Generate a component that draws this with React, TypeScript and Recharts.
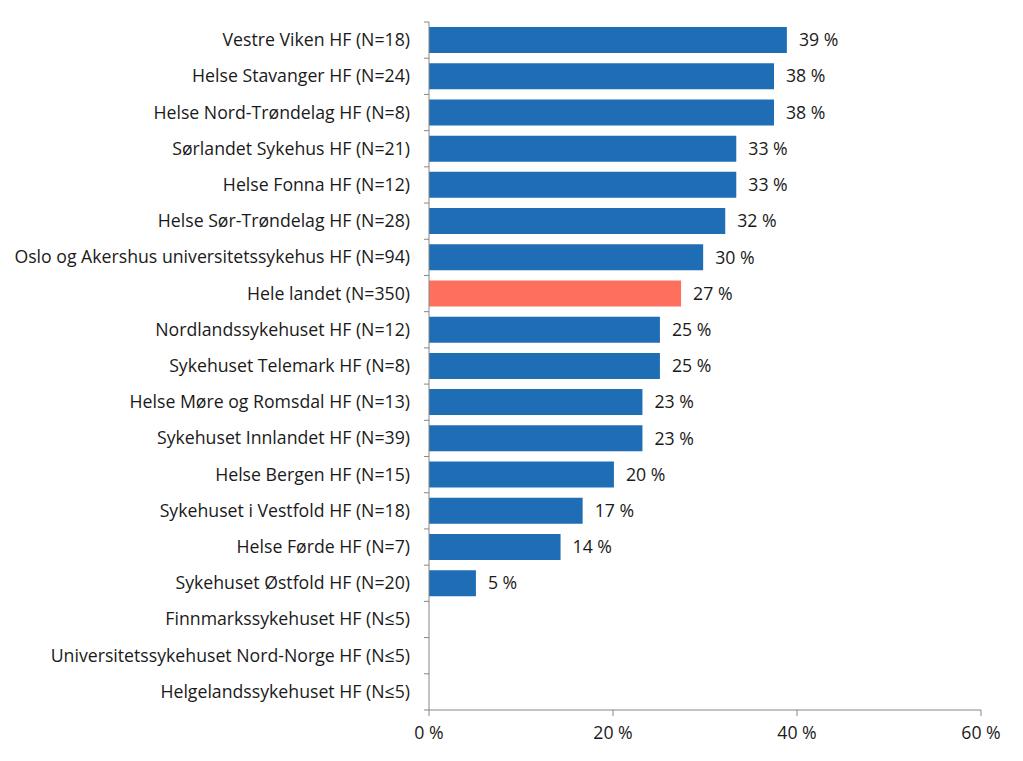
import React from 'react';
import { BarChart, Bar, Cell, XAxis, YAxis, LabelList } from 'recharts';

const categories = [
  'Vestre Viken HF (N=18)',
  'Helse Stavanger HF (N=24)',
  'Helse Nord-Trøndelag HF (N=8)',
  'Sørlandet Sykehus HF (N=21)',
  'Helse Fonna HF (N=12)',
  'Helse Sør-Trøndelag HF (N=28)',
  'Oslo og Akershus universitetssykehus HF (N=94)',
  'Hele landet (N=350)',
  'Nordlandssykehuset HF (N=12)',
  'Sykehuset Telemark HF (N=8)',
  'Helse Møre og Romsdal HF (N=13)',
  'Sykehuset Innlandet HF (N=39)',
  'Helse Bergen HF (N=15)',
  'Sykehuset i Vestfold HF (N=18)',
  'Helse Førde HF (N=7)',
  'Sykehuset Østfold HF (N=20)',
  'Finnmarkssykehuset HF (N≤5)',
  'Universitetssykehuset Nord-Norge HF (N≤5)',
  'Helgelandssykehuset HF (N≤5)',
];

const values: (number | null)[] = [
  38.9, 37.5, 37.5, 33.4, 33.4, 32.2, 29.8, 27.4, 25.1, 25.1, 23.2, 23.2, 20.1, 16.7, 14.3, 5.1, null, null, null,
];

const xTicks = [0, 20, 40, 60];
const highlight = 'Hele landet (N=350)';

const data = categories.map((name, i) => ({ name, value: values[i] }));

const FONT = '"Open Sans", "Noto Sans", sans-serif';
const FS = 17.7;
const TEXT = '#1a1a1a';
const AXIS = '#868686';
const BLUE = '#1f6eb5';
const RED = '#ff6f5e';

const PLOT_TOP = 22;
const PLOT_BOTTOM = 710;
const BAND = (PLOT_BOTTOM - PLOT_TOP) / categories.length;

function CategoryTick(props: any) {
  const { x, y, payload, index } = props;
  const edge = x + 19;
  return (
    <g>
      <text x={x} y={y} dy={6} textAnchor="end" fill={TEXT} fontSize={FS} fontFamily={FONT}>
        {payload.value}
      </text>
      <line x1={edge - 5} x2={edge} y1={y - BAND / 2} y2={y - BAND / 2} stroke={AXIS} />
      {index === categories.length - 1 && (
        <line x1={edge - 5} x2={edge} y1={y + BAND / 2} y2={y + BAND / 2} stroke={AXIS} />
      )}
    </g>
  );
}

export default function App() {
  return (
    <div style={{ position: 'absolute', left: 0, top: 0, background: '#fff' }}>
      <BarChart
        width={1023}
        height={761}
        data={data}
        layout="vertical"
        margin={{ top: PLOT_TOP, right: 42, bottom: 0, left: 0 }}
        barCategoryGap={0}
      >
        <XAxis
          type="number"
          domain={[0, 60]}
          ticks={xTicks}
          tickFormatter={(v) => `${v} %`}
          axisLine={{ stroke: AXIS }}
          tickLine={{ stroke: AXIS }}
          tickSize={6}
          tickMargin={10}
          height={51}
          tick={{ fill: TEXT, fontSize: FS, fontFamily: FONT }}
          interval={0}
        />
        <YAxis
          type="category"
          dataKey="name"
          width={429}
          axisLine={{ stroke: AXIS }}
          tickLine={false}
          tickSize={0}
          tickMargin={19}
          interval={0}
          tick={<CategoryTick />}
        />
        <Bar dataKey="value" barSize={26} isAnimationActive={false}>
          {data.map((d, i) => (
            <Cell key={`cell-${i}`} fill={d.name === highlight ? RED : BLUE} />
          ))}
          <LabelList
            dataKey="value"
            position="right"
            offset={12}
            formatter={(v: any) => (v == null ? '' : `${Math.round(v)} %`)}
            style={{ fill: TEXT, fontSize: FS, fontFamily: FONT }}
          />
        </Bar>
      </BarChart>
    </div>
  );
}
